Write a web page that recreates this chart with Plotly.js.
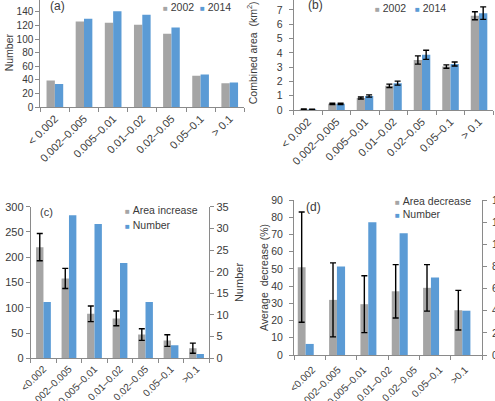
<!DOCTYPE html>
<html><head><meta charset="utf-8">
<script src="https://cdn.plot.ly/plotly-3.0.1.min.js"></script>
<style>
html,body{margin:0;padding:0;overflow:hidden;background:#fff;width:495px;height:401px;}
#chart{position:absolute;left:0;top:-5px;width:510px;height:410px;}
</style>
</head><body><div id="chart"></div>
<script>
// ---- data ----
const labelsAB = ["< 0.002","0.002–0.005","0.005–0.01","0.01–0.02","0.02–0.05","0.05–0.1","> 0.1"];
const count2002 = [39, 126, 124, 121, 108, 46, 35];
const count2014 = [34, 130, 141, 136, 117, 48, 36];
const area2002 = [0.06, 0.43, 0.84, 1.69, 3.5, 3.04, 6.6];
const area2002Err = [0.01, 0.04, 0.07, 0.12, 0.29, 0.12, 0.28];
const area2014 = [0.05, 0.43, 0.98, 1.88, 3.86, 3.22, 6.78];
const area2014Err = [0.01, 0.04, 0.08, 0.14, 0.32, 0.14, 0.44];

const labelsCD = ["<0.002","0.002–0.005","0.005–0.01","0.01–0.02","0.02–0.05","0.05–0.1",">0.1"];
const areaIncrease = [220, 158, 88, 79, 47, 35, 20];
const areaIncreaseErr = [27, 20, 15.5, 14.5, 11.5, 11.5, 10];
const numberIncrease = [13, 33, 31, 22, 13, 3, 1];

const decreaseGroups = ["<0.002","0.002–0.005","0.005–0.01","0.01–0.02","0.02–0.05","0.05–0.1"];
const areaDecrease = [51, 32, 29.5, 37, 39, 26];
const areaDecreaseErr = [32, 21.5, 16.5, 15.5, 13.5, 11.5];
const numberDecrease = [1, 8, 12, 11, 7, 4];

// ---- style ----
const TXT = '#3a3a3a', AX = '#8a8a8a', GRAY = '#A5A5A5', BLUE = '#5B9BD5';
const FONT = 'Liberation Sans, Arial, sans-serif';
const W = 510, H = 410, OY = 5;
const fx = p => p / W, fy = p => 1 - (p + OY) / H;

function errY(arr){ return {type:'data', array:arr, visible:true, color:'#000', thickness:1.4, width:3}; }

const dPos = decreaseGroups.map((_, i) => i);

const traces = [
  {type:'bar', name:'2002', x:labelsAB, y:count2002, xaxis:'x', yaxis:'y', marker:{color:GRAY}, width:0.286, offset:-0.286},
  {type:'bar', name:'2014', x:labelsAB, y:count2014, xaxis:'x', yaxis:'y', marker:{color:BLUE}, width:0.286, offset:0},
  {type:'bar', name:'2002', x:labelsAB, y:area2002, error_y:errY(area2002Err), xaxis:'x2', yaxis:'y2', marker:{color:GRAY}, width:0.29, offset:-0.29},
  {type:'bar', name:'2014', x:labelsAB, y:area2014, error_y:errY(area2014Err), xaxis:'x2', yaxis:'y2', marker:{color:BLUE}, width:0.29, offset:0},
  {type:'bar', name:'Area increase', x:labelsCD, y:areaIncrease, error_y:errY(areaIncreaseErr), xaxis:'x3', yaxis:'y3', marker:{color:GRAY}, width:0.29, offset:-0.29},
  {type:'bar', name:'Number', x:labelsCD, y:numberIncrease, xaxis:'x3', yaxis:'y5', marker:{color:BLUE}, width:0.29, offset:0},
  {type:'bar', name:'Area decrease', x:dPos, y:areaDecrease, hovertext:decreaseGroups, error_y:errY(areaDecreaseErr), xaxis:'x4', yaxis:'y4', marker:{color:GRAY}, width:0.25, offset:-0.38},
  {type:'bar', name:'Number', x:dPos, y:numberDecrease, hovertext:decreaseGroups, xaxis:'x4', yaxis:'y6', marker:{color:BLUE}, width:0.26, offset:-0.13}
];

function xCat(dom, anchor, n, size){
  return {domain:dom, anchor:anchor, type:'category', range:[-0.5, n-0.5], tickson:'boundaries',
    ticks:'outside', ticklen:4, tickcolor:AX, showline:true, linecolor:AX, linewidth:1,
    showgrid:false, zeroline:false, tickangle:-45,
    tickfont:{family:FONT, size:size, color:TXT}, fixedrange:true};
}
function yLin(dom, anchor, range, dtick, size, title, tsize, standoff, lblOff){
  const a = {domain:dom, anchor:anchor, range:range, dtick:dtick, ticks:'outside', ticklen:4,
    tickcolor:AX, showline:true, linecolor:AX, linewidth:1, showgrid:false, zeroline:false,
    tickfont:{family:FONT, size:size, color:TXT}, fixedrange:true};
  if(lblOff) a.ticklabelstandoff = lblOff;
  if(title) a.title = {text:title, font:{family:FONT, size:tsize, color:TXT}, standoff:standoff};
  return a;
}

const ann = [];
function label(txt, px, py, size){
  ann.push({text:txt, xref:'paper', yref:'paper', x:fx(px), y:fy(py), xanchor:'center', yanchor:'middle',
    showarrow:false, font:{family:FONT, size:size, color:TXT}});
}
function legItem(txt, color, px, py){
  ann.push({text:'<span style="color:'+color+';font-size:8px">■</span>\u00a0'+txt, xref:'paper', yref:'paper',
    x:fx(px), y:fy(py), xanchor:'left', yanchor:'middle', showarrow:false,
    font:{family:FONT, size:10.5, color:TXT}});
}
label('(a)', 57.5, 6, 12);
label('(b)', 315, 5, 12);
label('(c)', 46.5, 212, 11);
label('(d)', 313.5, 207, 12);
legItem('2002', GRAY, 161, 6.5);
legItem('2014', BLUE, 198, 6.5);
legItem('2002', GRAY, 373, 8.3);
legItem('2014', BLUE, 413, 8.3);
legItem('Area increase', GRAY, 123, 210);
legItem('Number', BLUE, 123, 225);
legItem('Area decrease', GRAY, 393, 201);
legItem('Number', BLUE, 393, 214.3);

// label placement on panel (d): its labels are spaced differently from the bar slots
const dLabelStart = 0.09, dLabelStep = 0.812;

const layout = {
  width:W, height:H, margin:{l:0, r:0, t:0, b:0}, paper_bgcolor:'#fff', plot_bgcolor:'rgba(0,0,0,0)',
  showlegend:false, barmode:'group', font:{family:FONT, color:TXT},
  xaxis: xCat([fx(40.3), fx(244.3)], 'y', 7, 11),
  yaxis: yLin([fy(107), fy(-1.6)], 'x', [0,160], 20, 10, 'Number', 10.5, 0),
  xaxis2: xCat([fx(293.7), fx(493.3)], 'y2', 7, 11),
  yaxis2: yLin([fy(110), fy(-4.3)], 'x2', [0,8], 1, 10.5, 'Combined area  (km<sup>2</sup>)', 10.5, 17, 4),
  xaxis3: xCat([fx(30.7), fx(209.3)], 'y3', 7, 10),
  yaxis3: yLin([fy(358.3), fy(206.7)], 'x3', [0,300], 50, 11, null),
  yaxis5: Object.assign(yLin([fy(358.3), fy(206.7)], 'x3', [0,35], 5, 11, 'Number', 11, 7), {overlaying:'y3', side:'right'}),
  xaxis4: {domain:[fx(294), fx(482)], anchor:'y4', type:'linear', range:[-0.5, decreaseGroups.length-0.5],
    tickmode:'array', tickvals: labelsCD.map((_, k) => dLabelStart + dLabelStep*k), ticktext: labelsCD, tickangle:-45,
    ticks:'outside', ticklen:4, tickcolor:'rgba(0,0,0,0)',
    minor:{tickmode:'array', tickvals: Array.from({length: decreaseGroups.length+1}, (_, i) => i - 0.5),
      ticks:'outside', ticklen:4, tickcolor:AX, showgrid:false},
    showline:true, linecolor:AX, linewidth:1, showgrid:false, zeroline:false,
    tickfont:{family:FONT, size:10, color:TXT}, fixedrange:true},
  yaxis4: yLin([fy(355), fy(200)], 'x4', [0,90], 10, 10.5, 'Average  decrease (%)', 10.5, 0, 4),
  yaxis6: Object.assign(yLin([fy(355), fy(200)], 'x4', [0,14], 2, 10.5, null, 0, 0, 3), {overlaying:'y4', side:'right'}),
  annotations: ann
};

Plotly.newPlot('chart', traces, layout, {staticPlot:true, displayModeBar:false});
</script>
</body></html>
